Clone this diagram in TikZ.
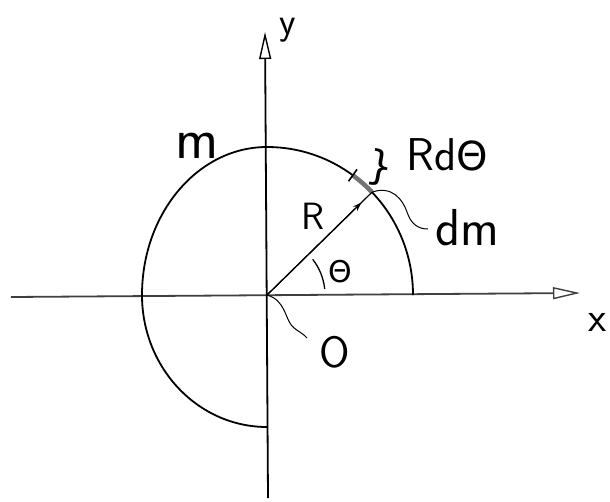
\documentclass[tikz,border=0pt]{standalone}
\usepackage{fontspec}
\newfontfamily\gfont{DejaVu Sans}
\usetikzlibrary{arrows.meta,calc}
\begin{document}
\begin{tikzpicture}[x=1pt,y=1pt,
  axis/.style={line width=1.8pt},
  curve/.style={line width=1.8pt},
  lbl/.style={inner sep=0pt, font=\sffamily},
  squig/.style={line width=1pt},
  openhead/.style={-{Triangle[open,length=27pt,width=12pt,line width=1.4pt]}}]
\useasboundingbox (0,-501) rectangle (610,0);
\fill[white] (0,-501) rectangle (610,0);
% axes
\coordinate (O) at (267,-295);
\coordinate (XL) at (11,-297);
\coordinate (XR) at (580,-293);
\coordinate (YB) at (268,-498);
\coordinate (YT) at (265,-32);
\draw[axis, black!75, openhead] (XL) -- (XR);
\draw[axis, openhead] (YB) -- (YT);
% hand-drawn three-quarter circle
\coordinate (A0) at (413,-295);
\draw[curve] (A0) arc[start angle=0,end angle=90,x radius=146pt,y radius=148pt]
  arc[start angle=90,end angle=180,x radius=125pt,y radius=148pt]
  arc[start angle=180,end angle=270,x radius=125pt,y radius=132pt];
% element dm
\coordinate (P) at (372,-192.2);
\coordinate (Q) at (352.8,-175.3);
\draw[black!55, line width=4.5pt] (P) arc[start angle=44,end angle=54,x radius=146pt,y radius=148pt];
\draw[line width=1.6pt] ($(O)!0.95!(Q)$) -- ($(O)!1.05!(Q)$);
% radius
\draw[line width=1.2pt] (O) -- (P);
\draw[line width=1.2pt, -{Stealth[length=9pt,width=6pt]}] (O) -- ($(O)!0.9!(P)$);
% angle mark
\draw[line width=1.3pt] ([shift={(38:58pt)}]O) arc[start angle=38,end angle=6,radius=58pt];
% labels
\node[lbl, font=\sffamily\fontsize{38}{42}\selectfont] (ylab) at (288,-30) {y};
\node[lbl, font=\sffamily\fontsize{42}{46}\selectfont] (xlab) at (598,-322) {x};
\node[lbl, font=\sffamily\fontsize{58}{62}\selectfont] (mlab) at (197,-146) {m};
\node[lbl, font=\sffamily\fontsize{38}{42}\selectfont] (Rlab) at (313,-216) {R};
\node[lbl, font=\gfont\fontsize{30}{34}\selectfont] (thlab) at (340,-272) {Θ};
\node[lbl, font=\sffamily\fontsize{46}{50}\selectfont] (Rdth) at (447,-155) {Rd{\gfont\fontsize{40}{44}\selectfont Θ}};
\node[lbl, font=\gfont\fontsize{40}{44}\selectfont, rotate=-10] (brace) at (380,-168) {\char"7D};
\node[lbl, font=\sffamily\fontsize{52}{56}\selectfont] (dmlab) at (467,-228) {dm};
\node[lbl, font=\sffamily\fontsize{44}{48}\selectfont] (Olab) at (335,-352) {O};
% squiggly pointers
\coordinate (dmend) at (428,-229);
\draw[squig] (P) .. controls (392,-185) and (403,-200) .. (407,-212)
  .. controls (411,-224) and (418,-229) .. (dmend);
\coordinate (oend) at (307,-338);
\draw[squig] (O) .. controls (285,-300) and (285,-318) .. (292,-326)
  .. controls (298,-332) and (303,-333) .. (oend);
\end{tikzpicture}
\end{document}
